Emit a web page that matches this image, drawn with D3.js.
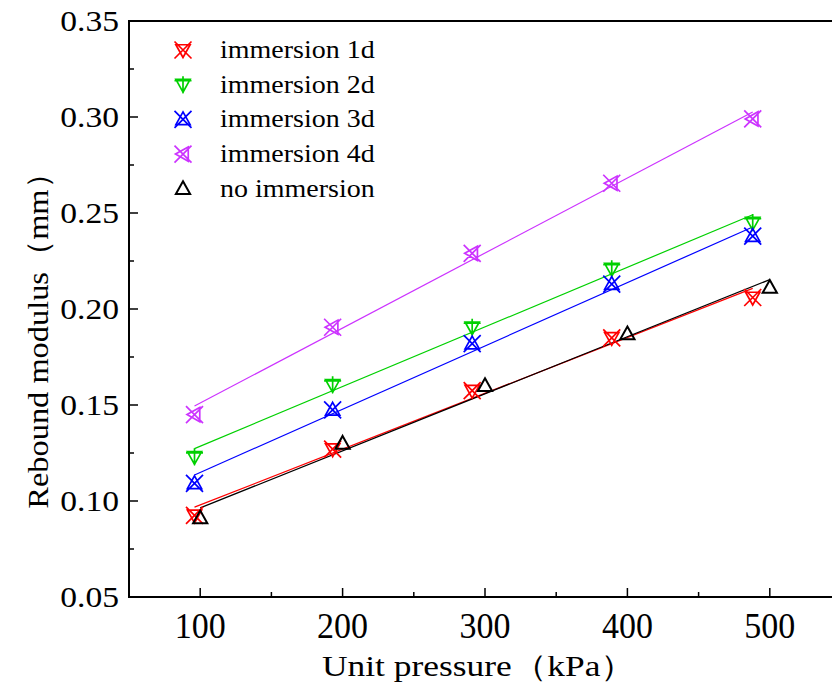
<!DOCTYPE html>
<html>
<head>
<meta charset="utf-8">
<script src="https://cdn.jsdelivr.net/npm/d3@7/dist/d3.min.js"></script>
<style>
  html, body { margin: 0; padding: 0; background: #fff; }
  svg { display: block; }
</style>
</head>
<body>
<svg id="chart" width="832" height="693"></svg>
<script>
// Rebound modulus measured at each unit pressure, per soaking duration
const pressureSoaked = [96, 193, 291, 389, 488];
const pressureDry = [100, 200, 300, 400, 500];
const immersion1d = [0.0925, 0.1270, 0.1575, 0.1850, 0.2060];
const immersion2d = [0.1230, 0.1605, 0.1905, 0.2210, 0.2450];
const immersion3d = [0.1092, 0.1475, 0.1820, 0.2130, 0.2380];
const immersion4d = [0.1450, 0.1905, 0.2290, 0.2655, 0.2990];
const noImmersion = [0.0911, 0.1300, 0.1600, 0.1870, 0.2112];

const seriesNames = ["immersion 1d", "immersion 2d", "immersion 3d", "immersion 4d", "no immersion"];
const seriesColors = ["#ff0000", "#00d000", "#0000ff", "#cc33ff", "#000000"];
const xTicks = [100, 200, 300, 400, 500];
const yTicks = [0.05, 0.10, 0.15, 0.20, 0.25, 0.30, 0.35];

const series = [
  { name: seriesNames[0], xs: pressureSoaked, ys: immersion1d, color: seriesColors[0], marker: "xDown" },
  { name: seriesNames[1], xs: pressureSoaked, ys: immersion2d, color: seriesColors[1], marker: "plusDown" },
  { name: seriesNames[2], xs: pressureSoaked, ys: immersion3d, color: seriesColors[2], marker: "xUp" },
  { name: seriesNames[3], xs: pressureSoaked, ys: immersion4d, color: seriesColors[3], marker: "xLeft" },
  { name: seriesNames[4], xs: pressureDry, ys: noImmersion, color: seriesColors[4], marker: "triUp" }
];

const FONT = "\"Liberation Serif\"";

const svg = d3.select("#chart");
const plotLeft = 129, plotTop = 21, plotBottom = 597, plotRight = 841;

const x = d3.scaleLinear().domain([50, 550]).range([plotLeft, plotRight]);
const y = d3.scaleLinear().domain([0.05, 0.35]).range([plotBottom, plotTop]);

// marker glyphs built from crosses and triangles
function markerPath(type) {
  const p = d3.path();
  const a = 8.5, t = 7.5;
  const cross = () => { p.moveTo(-a, -a); p.lineTo(a, a); p.moveTo(a, -a); p.lineTo(-a, a); };
  const plus = () => { p.moveTo(0, -a); p.lineTo(0, a); p.moveTo(-a, -4); p.lineTo(a, -4); };
  const tri = (rot) => {
    const pts = [[0, -t], [t * 0.95, t * 0.7], [-t * 0.95, t * 0.7]].map(([px, py]) => {
      const c = Math.cos(rot), s = Math.sin(rot);
      return [px * c - py * s, px * s + py * c];
    });
    p.moveTo(pts[0][0], pts[0][1]); p.lineTo(pts[1][0], pts[1][1]); p.lineTo(pts[2][0], pts[2][1]); p.closePath();
  };
  if (type === "xDown") { cross(); tri(Math.PI); }
  else if (type === "plusDown") { plus(); tri(Math.PI); }
  else if (type === "xUp") { cross(); tri(0); }
  else if (type === "xLeft") { cross(); tri(-Math.PI / 2); }
  else if (type === "triUp") { tri(0); }
  return p.toString();
}

// axes frame
const g = svg.append("g");

// minor ticks
const xMinor = d3.range(150, 550, 100);
const yMinor = d3.range(0.075, 0.35, 0.05);

g.append("g").selectAll("line").data(xTicks).join("line")
  .attr("x1", d => x(d)).attr("x2", d => x(d))
  .attr("y1", plotBottom).attr("y2", plotBottom - 9)
  .attr("stroke", "#000").attr("stroke-width", 1.5);
g.append("g").selectAll("line").data(xMinor).join("line")
  .attr("x1", d => x(d)).attr("x2", d => x(d))
  .attr("y1", plotBottom).attr("y2", plotBottom - 5)
  .attr("stroke", "#000").attr("stroke-width", 1.5);
g.append("g").selectAll("line").data(yTicks).join("line")
  .attr("x1", plotLeft).attr("x2", plotLeft + 9)
  .attr("y1", d => y(d)).attr("y2", d => y(d))
  .attr("stroke", "#000").attr("stroke-width", 1.5);
g.append("g").selectAll("line").data(yMinor).join("line")
  .attr("x1", plotLeft).attr("x2", plotLeft + 5)
  .attr("y1", d => y(d)).attr("y2", d => y(d))
  .attr("stroke", "#000").attr("stroke-width", 1.5);

g.append("path")
  .attr("d", `M${plotRight},${plotTop}H${plotLeft}V${plotBottom}H${plotRight}`)
  .attr("fill", "none").attr("stroke", "#000").attr("stroke-width", 2);

// tick labels
g.append("g").selectAll("text").data(xTicks).join("text")
  .attr("transform", d => `translate(${x(d)},638) scale(1,1.08)`)
  .attr("text-anchor", "middle")
  .style("font-family", FONT)
  .style("font-size", "34px")
  .text(d => d);
g.append("g").selectAll("text").data(yTicks).join("text")
  .attr("transform", d => `translate(119,${y(d) + 10}) scale(1.12,1)`)
  .attr("text-anchor", "end")
  .style("font-family", FONT)
  .style("font-size", "30px")
  .text(d => d.toFixed(2));

// axis titles
svg.append("text")
  .attr("transform", "translate(479,676) scale(1.18,1)")
  .attr("text-anchor", "middle")
  .style("font-family", FONT)
  .style("font-size", "30px")
  .text("Unit pressure（kPa）");
svg.append("text")
  .attr("transform", "translate(48,333) rotate(-90) scale(1.08,1)")
  .attr("text-anchor", "middle")
  .style("font-family", FONT)
  .style("font-size", "30px")
  .text("Rebound modulus（mm）");

// least-squares fit line for each series
function fit(xs, ys) {
  const mx = d3.mean(xs), my = d3.mean(ys);
  const b = d3.sum(xs, (v, i) => (v - mx) * (ys[i] - my)) / d3.sum(xs, v => (v - mx) * (v - mx));
  return v => my + b * (v - mx);
}

const plot = svg.append("g");
series.forEach(s => {
  const f = fit(s.xs, s.ys);
  const x0 = d3.min(s.xs), x1 = d3.max(s.xs);
  plot.append("line")
    .attr("x1", x(x0)).attr("y1", y(f(x0)))
    .attr("x2", x(x1)).attr("y2", y(f(x1)))
    .attr("stroke", s.color).attr("stroke-width", 1.2);
});
series.forEach(s => {
  plot.append("g").selectAll("path").data(s.xs.map((v, i) => [v, s.ys[i]])).join("path")
    .attr("transform", d => `translate(${x(d[0])},${y(d[1])})`)
    .attr("d", markerPath(s.marker))
    .attr("fill", "none")
    .attr("stroke", s.color)
    .attr("stroke-width", s.marker === "triUp" ? 2 : 1.7);
});

// legend
const legend = svg.append("g");
series.forEach((s, i) => {
  const ly = 50 + i * 34.7;
  legend.append("path")
    .attr("transform", `translate(183,${ly})`)
    .attr("d", markerPath(s.marker))
    .attr("fill", "none")
    .attr("stroke", s.color)
    .attr("stroke-width", s.marker === "triUp" ? 2 : 1.7);
  legend.append("text")
    .attr("transform", `translate(220,${ly + 8}) scale(1.12,1)`)
    .style("font-family", FONT)
    .style("font-size", "25px")
    .text(s.name);
});
</script>
</body>
</html>
